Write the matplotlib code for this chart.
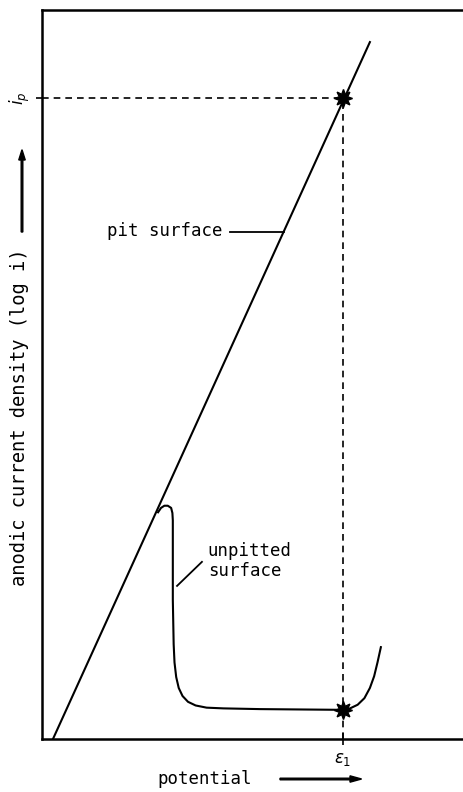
import matplotlib.pyplot as plt
from matplotlib.patches import FancyArrow

# straight line for the pit surface (potential, log i)
pit_x = [0.26, 7.77]
pit_y = [0.0, 9.56]

# unpitted surface curve
unp_x = [2.75, 2.82, 2.90, 2.98, 3.06, 3.09, 3.10, 3.10, 3.10, 3.12, 3.14, 3.18,
         3.24, 3.33, 3.46, 3.64, 3.90, 4.30, 5.17, 7.11, 7.30, 7.48, 7.64,
         7.77, 7.87, 7.95, 8.03]
unp_y = [3.11, 3.17, 3.20, 3.20, 3.17, 3.10, 3.00, 2.73, 1.91, 1.30, 1.05, 0.85,
         0.70, 0.59, 0.51, 0.46, 0.43, 0.42, 0.41, 0.40, 0.42, 0.47, 0.56,
         0.70, 0.86, 1.05, 1.26]

e1 = 7.13       # potential E1
ip = 8.79       # log i at pit
low_i = 0.40    # passive current at E1

plt.rcParams['font.family'] = ['DejaVu Sans Mono', 'DejaVu Sans']

fig = plt.figure(figsize=(4.64, 7.92), dpi=100)
ax = fig.add_axes([42/464, 53/792, 422/464, 729/792])
ax.set_xlim(0, 10)
ax.set_ylim(0, 10)

ax.plot(pit_x, pit_y, color='black', lw=1.5)
ax.plot(unp_x, unp_y, color='black', lw=1.5)

# dashed construction lines
ax.plot([0, e1], [ip, ip], color='black', lw=1.2, ls=(0, (4, 3)))
ax.plot([e1, e1], [0, ip], color='black', lw=1.2, ls=(0, (4, 3)))
ax.plot([e1, e1], [ip, low_i], ls='none', marker=(8, 1, 0), ms=13,
        color='black')

ax.spines['right'].set_visible(False)
for s in ['left', 'top', 'bottom']:
    ax.spines[s].set_linewidth(1.8)

ax.set_xticks([e1])
ax.set_xticklabels([r'$\varepsilon_1$'], fontsize=12)
ax.set_yticks([ip])
ax.set_yticklabels([r'$i_p$'], rotation=90, fontsize=12, va='center')
ax.tick_params(axis='x', direction='inout', length=8, width=1.2, pad=4)
ax.tick_params(axis='y', direction='out', length=4, width=1.2, pad=3)

# annotations
ax.text(1.54, 6.97, 'pit surface', fontsize=12.5, weight='medium',
        ha='left', va='center')
ax.plot([4.45, 5.73], [6.96, 6.96], color='black', lw=1.3)
ax.text(3.93, 2.44, 'unpitted\nsurface', fontsize=12.5, ha='left', va='center',
        linespacing=1.1)
ax.plot([3.79, 3.20], [2.43, 2.10], color='black', lw=1.3)

# axis labels with arrows
fig.text(205/464, 1 - 779/792, 'potential', fontsize=12.5, ha='center',
         va='center')
fig.patches.append(FancyArrow(
    280/464, 1 - 779/792, 70/464, 0, width=0.002, head_width=0.008,
    head_length=0.025, color='black', transform=fig.transFigure, figure=fig))
fig.text(20/464, 1 - 417/792, 'anodic current density (log i)', fontsize=13.5,
         rotation=90, ha='center', va='center')
fig.patches.append(FancyArrow(
    22/464, 1 - 232/792, 0, 72/792, width=0.0035, head_width=0.014,
    head_length=0.013, color='black', transform=fig.transFigure, figure=fig))

fig.savefig('out.png', dpi=100)
